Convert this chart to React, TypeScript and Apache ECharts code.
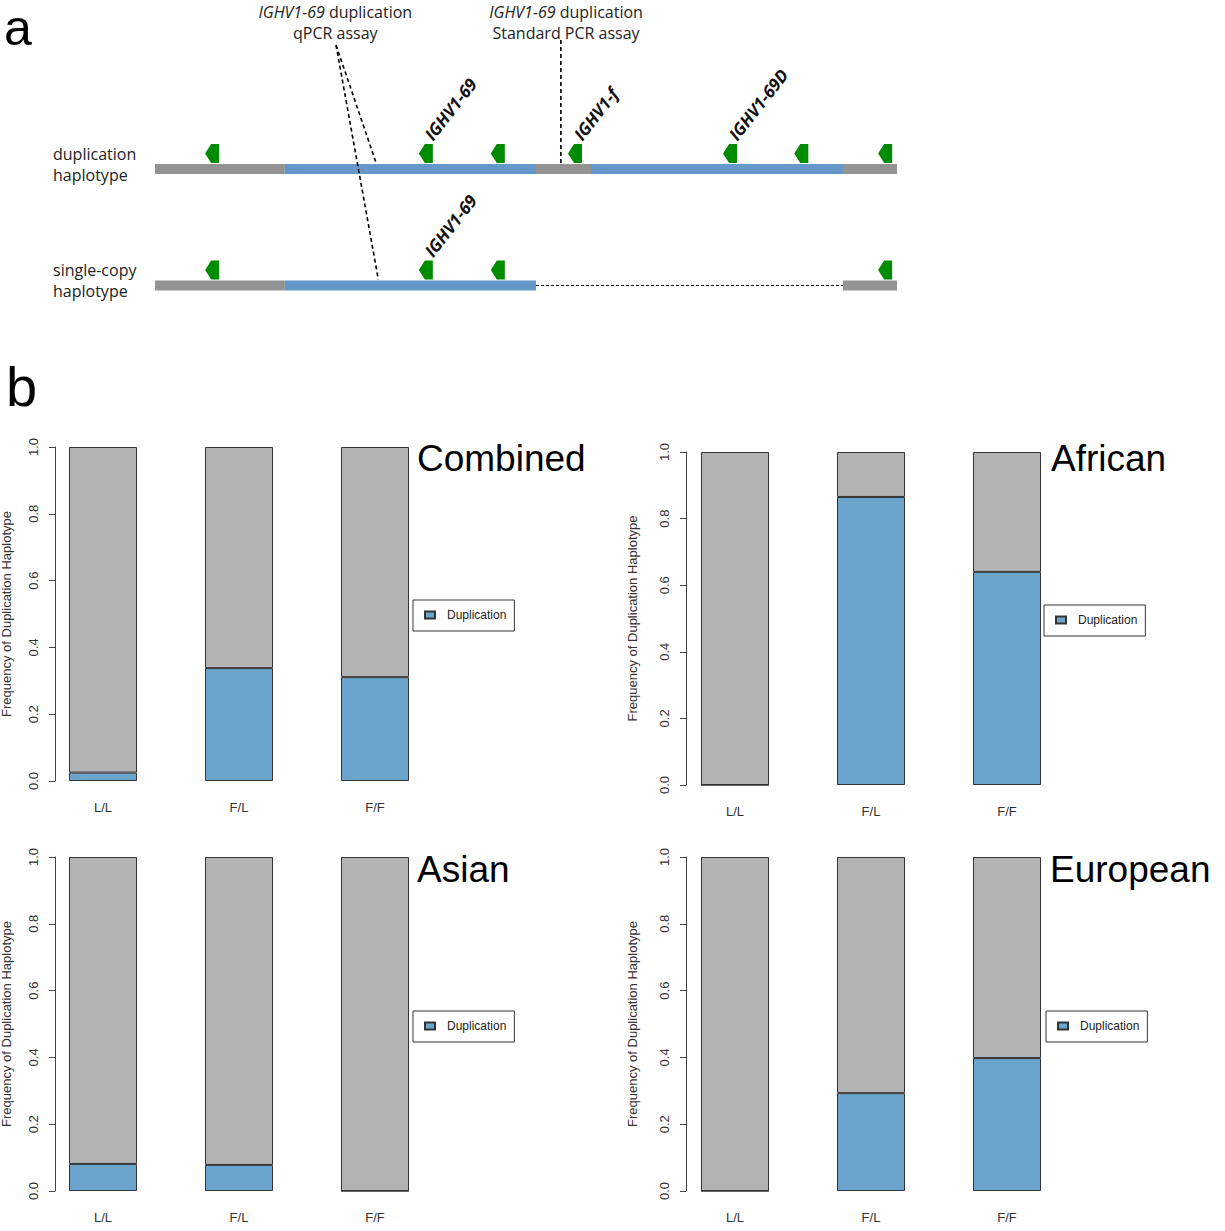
import React, { useEffect, useRef } from 'react';
import * as echarts from 'echarts';

// ---------- Panel b data ----------
const genotypes = ['L/L', 'F/L', 'F/F'];
const panelNames = ['Combined', 'African', 'Asian', 'European'];
const combinedDup = [0.025, 0.338, 0.311];
const combinedSingle = [0.975, 0.662, 0.689];
const africanDup = [0, 0.865, 0.64];
const africanSingle = [1, 0.135, 0.36];
const asianDup = [0.081, 0.078, 0];
const asianSingle = [0.919, 0.922, 1];
const europeanDup = [0, 0.293, 0.398];
const europeanSingle = [1, 0.707, 0.602];
const yAxisTitle = 'Frequency of Duplication Haplotype';
const legendLabel = 'Duplication';

// ---------- Panel a data (diagram units: position 0-100 along the locus, track rows 1-2) ----------
const trackNames = [
  ['duplication', 'haplotype'],
  ['single-copy', 'haplotype'],
];
const segStart = [0, 17.5, 51.35, 58.76, 92.72, 0, 17.5, 51.35, 92.72];
const segEnd = [17.5, 51.35, 58.76, 92.72, 100, 17.5, 51.35, 92.72, 100];
const segTrack = [1, 1, 1, 1, 1, 2, 2, 2, 2];
const segKind = ['flank', 'dup', 'flank', 'dup', 'flank', 'flank', 'dup', 'deleted', 'flank'];
const genePos = [7.7, 36.5, 46.2, 56.6, 77.5, 87.1, 98.4, 7.7, 36.5, 46.2, 98.4];
const geneTrack = [1, 1, 1, 1, 1, 1, 1, 2, 2, 2, 2];
const geneLabelPos = [36.5, 56.6, 77.5, 36.5];
const geneLabelTrack = [1, 1, 1, 2];
const geneLabelText = ['IGHV1-69', 'IGHV1-f', 'IGHV1-69D', 'IGHV1-69'];
const assayGene = ['IGHV1-69', 'IGHV1-69'];
const assayText = ['qPCR assay', 'Standard PCR assay'];
const assayLabelPos = [24.3, 55.4];
const assayLabelRow = [-0.26, -0.26];
const assayLineStart = [[24.4, -0.064], [54.7, -0.107]];
const assayTargets = [[[29.8, 1], [30.1, 2]], [[54.7, 1]]];

const BLUE = '#6ba4cc';
const GRAY = '#b3b3b3';
const DIAG_BLUE = '#6598c9';
const DIAG_GRAY = '#939393';
const GREEN = '#008c00';
const BAR_H = 10;
const SANS = 'Liberation Sans, Arial, sans-serif';
const DIAG_FONT = 'Open Sans, sans-serif';

const App: React.FC = () => {
  const ref = useRef<HTMLDivElement>(null);

  useEffect(() => {
    if (!ref.current) return;
    const chart = echarts.init(ref.current, undefined, { renderer: 'svg' });

    const dups = [combinedDup, africanDup, asianDup, europeanDup];
    const singles = [combinedSingle, africanSingle, asianSingle, europeanSingle];

    const grids = [
      { left: 35, top: 447, width: 408, height: 334 },
      { left: 667, top: 452, width: 408, height: 333 },
      { left: 35, top: 857, width: 408, height: 334 },
      { left: 667, top: 857, width: 408, height: 334 },
      { left: 155, top: 52.5, width: 742, height: 349.5 },
    ].map((g) => ({ ...g, outerBoundsMode: 'none', containLabel: false }));
    const yOffsets = [-20, -19, -20, -19];
    const nameGaps = [42, 47, 42, 47];
    const legendPos = [
      [413, 600],
      [1044, 605],
      [413, 1011],
      [1046, 1011],
    ];
    const titlePos = [
      [417, 440],
      [1051, 440],
      [417, 851],
      [1050, 851],
    ];

    const xAxes: any[] = [0, 1, 2, 3].map((i) => ({
      type: 'category',
      gridIndex: i,
      data: genotypes,
      axisLine: { show: false },
      axisTick: { show: false },
      axisLabel: { fontSize: 13, color: '#333', margin: 20, fontFamily: SANS },
    }));
    xAxes.push({ type: 'value', gridIndex: 4, min: 0, max: 100, show: false });

    const yAxes: any[] = [0, 1, 2, 3].map((i) => ({
      type: 'value',
      gridIndex: i,
      min: 0,
      max: 1,
      interval: 0.2,
      offset: yOffsets[i],
      name: yAxisTitle,
      nameLocation: 'middle',
      nameRotate: 90,
      nameGap: nameGaps[i],
      nameTextStyle: { fontSize: 13, color: '#333', fontFamily: SANS },
      axisLine: { show: true, lineStyle: { color: '#444', width: 1 } },
      axisTick: { show: true, length: 6, lineStyle: { color: '#444', width: 1 } },
      splitLine: { show: false },
      axisLabel: {
        rotate: 90,
        fontSize: 13,
        color: '#333',
        margin: 15,
        fontFamily: SANS,
        formatter: (v: number) => v.toFixed(1),
      },
    }));
    yAxes.push({
      type: 'value',
      gridIndex: 4,
      min: 0,
      max: 3,
      interval: 1,
      inverse: true,
      axisLine: { show: false },
      axisTick: { show: false },
      splitLine: { show: false },
      axisLabel: {
        show: true,
        align: 'left',
        margin: 102,
        color: '#222',
        fontFamily: DIAG_FONT,
        fontSize: 16,
        rich: {
          t: { fontFamily: DIAG_FONT, fontSize: 16, lineHeight: 21, color: '#222' },
          s: { fontSize: 1, lineHeight: 10 },
        },
        formatter: (v: number) => {
          const k = Math.round(v) - 1;
          if (Math.abs(v - Math.round(v)) > 1e-6 || k < 0 || k >= trackNames.length) return '';
          return trackNames[k].map((s) => `{t|${s}}`).join('\n') + '\n{s| }';
        },
      },
    });

    const series: any[] = [];
    for (let i = 0; i < 4; i++) {
      series.push({
        type: 'bar',
        name: legendLabel,
        xAxisIndex: i,
        yAxisIndex: i,
        stack: 'p' + i,
        barWidth: '50%',
        data: dups[i],
        itemStyle: { color: BLUE, borderColor: '#333', borderWidth: 1 },
        silent: true,
      });
      series.push({
        type: 'bar',
        name: 'Single-copy',
        xAxisIndex: i,
        yAxisIndex: i,
        stack: 'p' + i,
        barWidth: '50%',
        data: singles[i],
        itemStyle: { color: GRAY, borderColor: '#333', borderWidth: 1 },
        silent: true,
      });
    }

    // Diagram: segments
    series.push({
      type: 'custom',
      xAxisIndex: 4,
      yAxisIndex: 4,
      silent: true,
      data: segStart.map((s, i) => [s, segEnd[i], segTrack[i]]),
      encode: { x: [0, 1], y: 2 },
      renderItem: (params: any, api: any) => {
        const i = params.dataIndex;
        const a = api.coord([api.value(0), api.value(2)]);
        const b = api.coord([api.value(1), api.value(2)]);
        if (segKind[i] === 'deleted') {
          return {
            type: 'line',
            shape: { x1: a[0], y1: a[1], x2: b[0], y2: b[1] },
            style: { stroke: '#000', lineWidth: 1.2, lineDash: [3, 2] },
          };
        }
        return {
          type: 'rect',
          shape: { x: a[0], y: a[1] - BAR_H / 2, width: b[0] - a[0], height: BAR_H },
          style: { fill: segKind[i] === 'dup' ? DIAG_BLUE : DIAG_GRAY },
        };
      },
    });

    // Diagram: gene markers
    series.push({
      type: 'custom',
      xAxisIndex: 4,
      yAxisIndex: 4,
      silent: true,
      data: genePos.map((p, i) => [p, geneTrack[i]]),
      encode: { x: 0, y: 1 },
      renderItem: (params: any, api: any) => {
        const c = api.coord([api.value(0), api.value(1)]);
        const bot = c[1] - BAR_H / 2 - 1;
        const top = bot - 19;
        return {
          type: 'polygon',
          shape: {
            points: [
              [c[0] - 7, (top + bot) / 2],
              [c[0] - 1, top],
              [c[0] + 7, top],
              [c[0] + 7, bot],
              [c[0] - 1, bot],
            ],
          },
          style: { fill: GREEN },
        };
      },
    });

    // Diagram: gene labels
    series.push({
      type: 'custom',
      xAxisIndex: 4,
      yAxisIndex: 4,
      silent: true,
      data: geneLabelPos.map((p, i) => [p, geneLabelTrack[i]]),
      encode: { x: 0, y: 1 },
      renderItem: (params: any, api: any) => {
        const i = params.dataIndex;
        const c = api.coord([api.value(0), api.value(1)]);
        return {
          type: 'text',
          x: c[0] + 9,
          y: c[1] - 26,
          rotation: (52 * Math.PI) / 180,
          style: {
            text: geneLabelText[i],
            fontFamily: DIAG_FONT,
            fontSize: 17,
            fontWeight: 'bold',
            fontStyle: 'italic',
            fill: '#111',
            align: 'left',
            verticalAlign: 'bottom',
          },
        };
      },
    });

    // Diagram: assay annotations
    series.push({
      type: 'custom',
      xAxisIndex: 4,
      yAxisIndex: 4,
      silent: true,
      data: assayLabelPos.map((p, i) => [p, assayLabelRow[i]]),
      encode: { x: 0, y: 1 },
      renderItem: (params: any, api: any) => {
        const i = params.dataIndex;
        const lbl = api.coord([api.value(0), api.value(1)]);
        const st = api.coord(assayLineStart[i]);
        const children: any[] = [
          {
            type: 'text',
            style: {
              x: lbl[0],
              y: lbl[1],
              text: `{g|${assayGene[i]}}{n| duplication}\n{n|${assayText[i]}}`,
              align: 'center',
              verticalAlign: 'middle',
              fontFamily: DIAG_FONT,
              fontSize: 16,
              fill: '#222',
              rich: {
                g: { fontFamily: DIAG_FONT, fontSize: 16, fontStyle: 'italic', lineHeight: 21, fill: '#222' },
                n: { fontFamily: DIAG_FONT, fontSize: 16, lineHeight: 21, fill: '#222' },
              },
            },
          },
        ];
        assayTargets[i].forEach((t) => {
          const e = api.coord(t);
          children.push({
            type: 'line',
            shape: { x1: st[0], y1: st[1], x2: e[0], y2: e[1] - BAR_H / 2 - 1 },
            style: { stroke: '#000', lineWidth: 1.6, lineDash: [4, 3] },
          });
        });
        return { type: 'group', children };
      },
    });

    const titles: any[] = [
      { text: 'a', left: 4, top: 3, padding: 0, textStyle: { fontSize: 50, fontWeight: 'normal', color: '#000', fontFamily: SANS } },
      { text: 'b', left: 6, top: 358, padding: 0, textStyle: { fontSize: 56, fontWeight: 'normal', color: '#000', fontFamily: SANS } },
    ];
    panelNames.forEach((n, i) => {
      titles.push({
        text: n,
        left: titlePos[i][0],
        top: titlePos[i][1],
        padding: 0,
        textStyle: { fontSize: 37, fontWeight: 'normal', color: '#000', fontFamily: SANS },
      });
    });

    const legends = [0, 1, 2, 3].map((i) => ({
      data: [legendLabel],
      left: legendPos[i][0],
      top: legendPos[i][1],
      orient: 'vertical',
      selectedMode: false,
      backgroundColor: '#fff',
      borderColor: '#333',
      borderWidth: 1,
      borderRadius: 0,
      padding: [9, 8, 10, 11],
      icon: 'rect',
      itemWidth: 10,
      itemHeight: 7,
      textStyle: { fontSize: 12, color: '#222', fontFamily: SANS, padding: [0, 0, 0, 7] },
    }));

    chart.setOption({
      animation: false,
      backgroundColor: '#fff',
      title: titles,
      legend: legends,
      grid: grids,
      xAxis: xAxes,
      yAxis: yAxes,
      series,
    });

    return () => {
      chart.dispose();
    };
  }, []);

  return (
    <div
      ref={ref}
      style={{ position: 'absolute', left: 0, top: 0, width: 1225, height: 1231 }}
    />
  );
};

export default App;
